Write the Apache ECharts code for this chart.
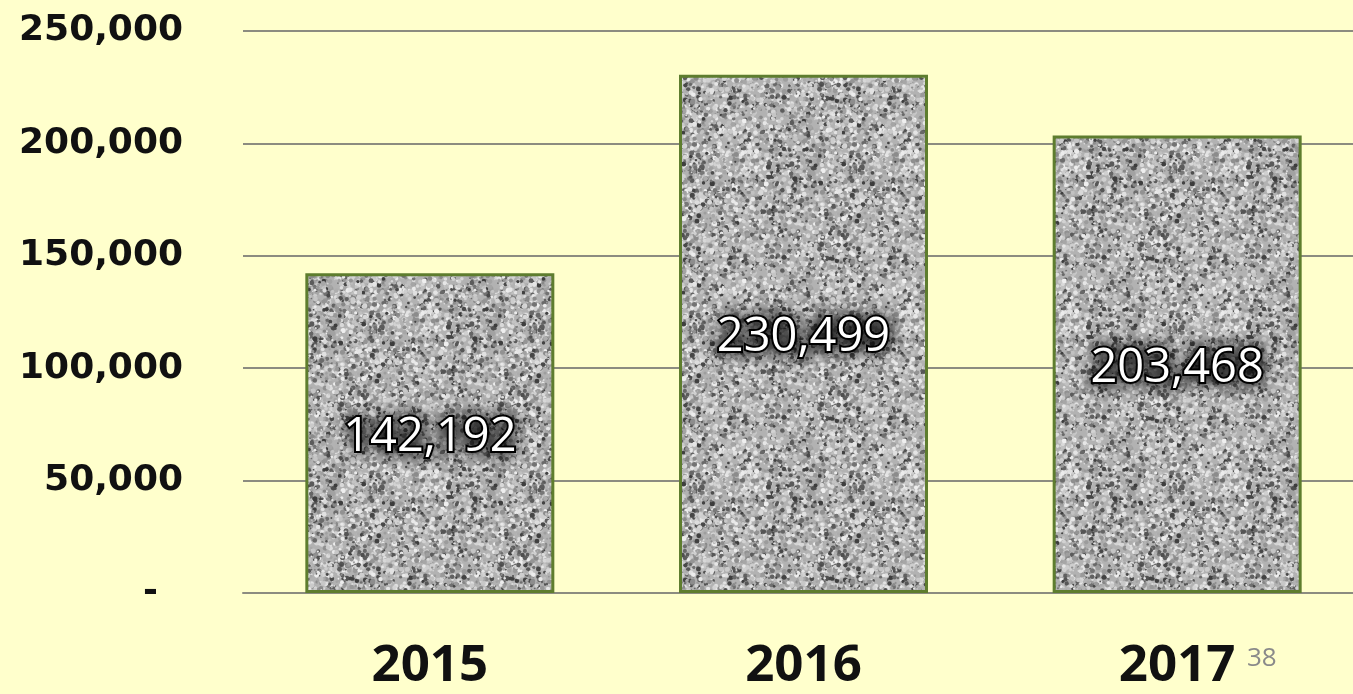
<!DOCTYPE html>
<html>
<head>
<meta charset="utf-8">
<script src="https://cdn.jsdelivr.net/npm/echarts@6/dist/echarts.min.js"></script>
<style>
html,body{margin:0;padding:0;background:#FFFFCC;}
#chart{width:1353px;height:694px;}
</style>
</head>
<body>
<div id="chart"></div>
<script>
const categories = ['2015', '2016', '2017'];
const values = [142192, 230499, 203468];
const yTicks = [0, 50000, 100000, 150000, 200000, 250000];
const pageNumber = '38';

// granite-like texture (deterministic seeded noise, style only)
function makeTexture() {
  const N = 160;
  const c = document.createElement('canvas');
  c.width = N; c.height = N;
  const ctx = c.getContext('2d');
  ctx.fillStyle = '#b2b2b2';
  ctx.fillRect(0, 0, N, N);
  let s = 12345;
  const rnd = () => { s = (s * 1103515245 + 12345) & 0x7fffffff; return s / 0x7fffffff; };
  for (let i = 0; i < 3200; i++) {
    const x = rnd() * N, y = rnd() * N;
    const r = 0.8 + rnd() * 1.8;
    const t = rnd();
    let g;
    if (t < 0.2) g = 60 + Math.floor(rnd() * 60);
    else if (t < 0.5) g = 135 + Math.floor(rnd() * 40);
    else g = 190 + Math.floor(rnd() * 50);
    ctx.fillStyle = 'rgb(' + g + ',' + g + ',' + g + ')';
    for (const dx of [-N, 0, N]) for (const dy of [-N, 0, N]) {
      ctx.beginPath();
      ctx.arc(x + dx, y + dy, r, 0, Math.PI * 2);
      ctx.fill();
    }
  }
  // soften
  const c2 = document.createElement('canvas');
  c2.width = N; c2.height = N;
  const ctx2 = c2.getContext('2d');
  ctx2.filter = 'blur(0.7px)';
  for (const dx of [-N, 0, N]) for (const dy of [-N, 0, N]) ctx2.drawImage(c, dx, dy);
  return c2;
}
const tex = makeTexture();

const chart = echarts.init(document.getElementById('chart'));
chart.setOption({
  backgroundColor: '#FFFFCC',
  animation: false,
  grid: { left: 243, width: 1121, top: 31, height: 562, outerBoundsMode: 'none', containLabel: false },
  xAxis: {
    type: 'category',
    data: categories,
    axisLine: { show: true, lineStyle: { color: '#8c8c80', width: 2 } },
    axisTick: { show: false },
    axisLabel: {
      color: '#111', fontFamily: 'Open Sans', fontWeight: 'bold', fontSize: 51, margin: 48
    }
  },
  yAxis: {
    type: 'value',
    min: 0, max: 250000, interval: 50000,
    axisLine: { show: false },
    axisTick: { show: false },
    splitLine: { show: true, lineStyle: { color: '#8c8c80', width: 2 } },
    axisLabel: {
      color: '#111', fontFamily: 'DejaVu Sans', fontWeight: 'bold', fontSize: 36, margin: 60,
      formatter: v => (yTicks.includes(v) && v === 0) ? '-  ' : v.toLocaleString('en-US')
    }
  },
  series: [{
    type: 'bar',
    data: values,
    barWidth: 249,
    itemStyle: {
      color: { image: tex, repeat: 'repeat' },
      borderColor: '#5e7d2e',
      borderWidth: 3
    },
    label: {
      show: true,
      position: 'inside',
      offset: [0, 4],
      formatter: p => p.value.toLocaleString('en-US'),
      color: '#fff',
      fontFamily: 'Open Sans',
      fontSize: 47,
      textBorderColor: '#000',
      textBorderWidth: 4,
      textShadowColor: '#000',
      textShadowBlur: 16
    }
  }],
  graphic: [{
    type: 'text',
    left: 1247, top: 646,
    style: { text: pageNumber, fill: '#8a8a8a', font: '26px "Open Sans"' }
  }]
});
</script>
</body>
</html>
